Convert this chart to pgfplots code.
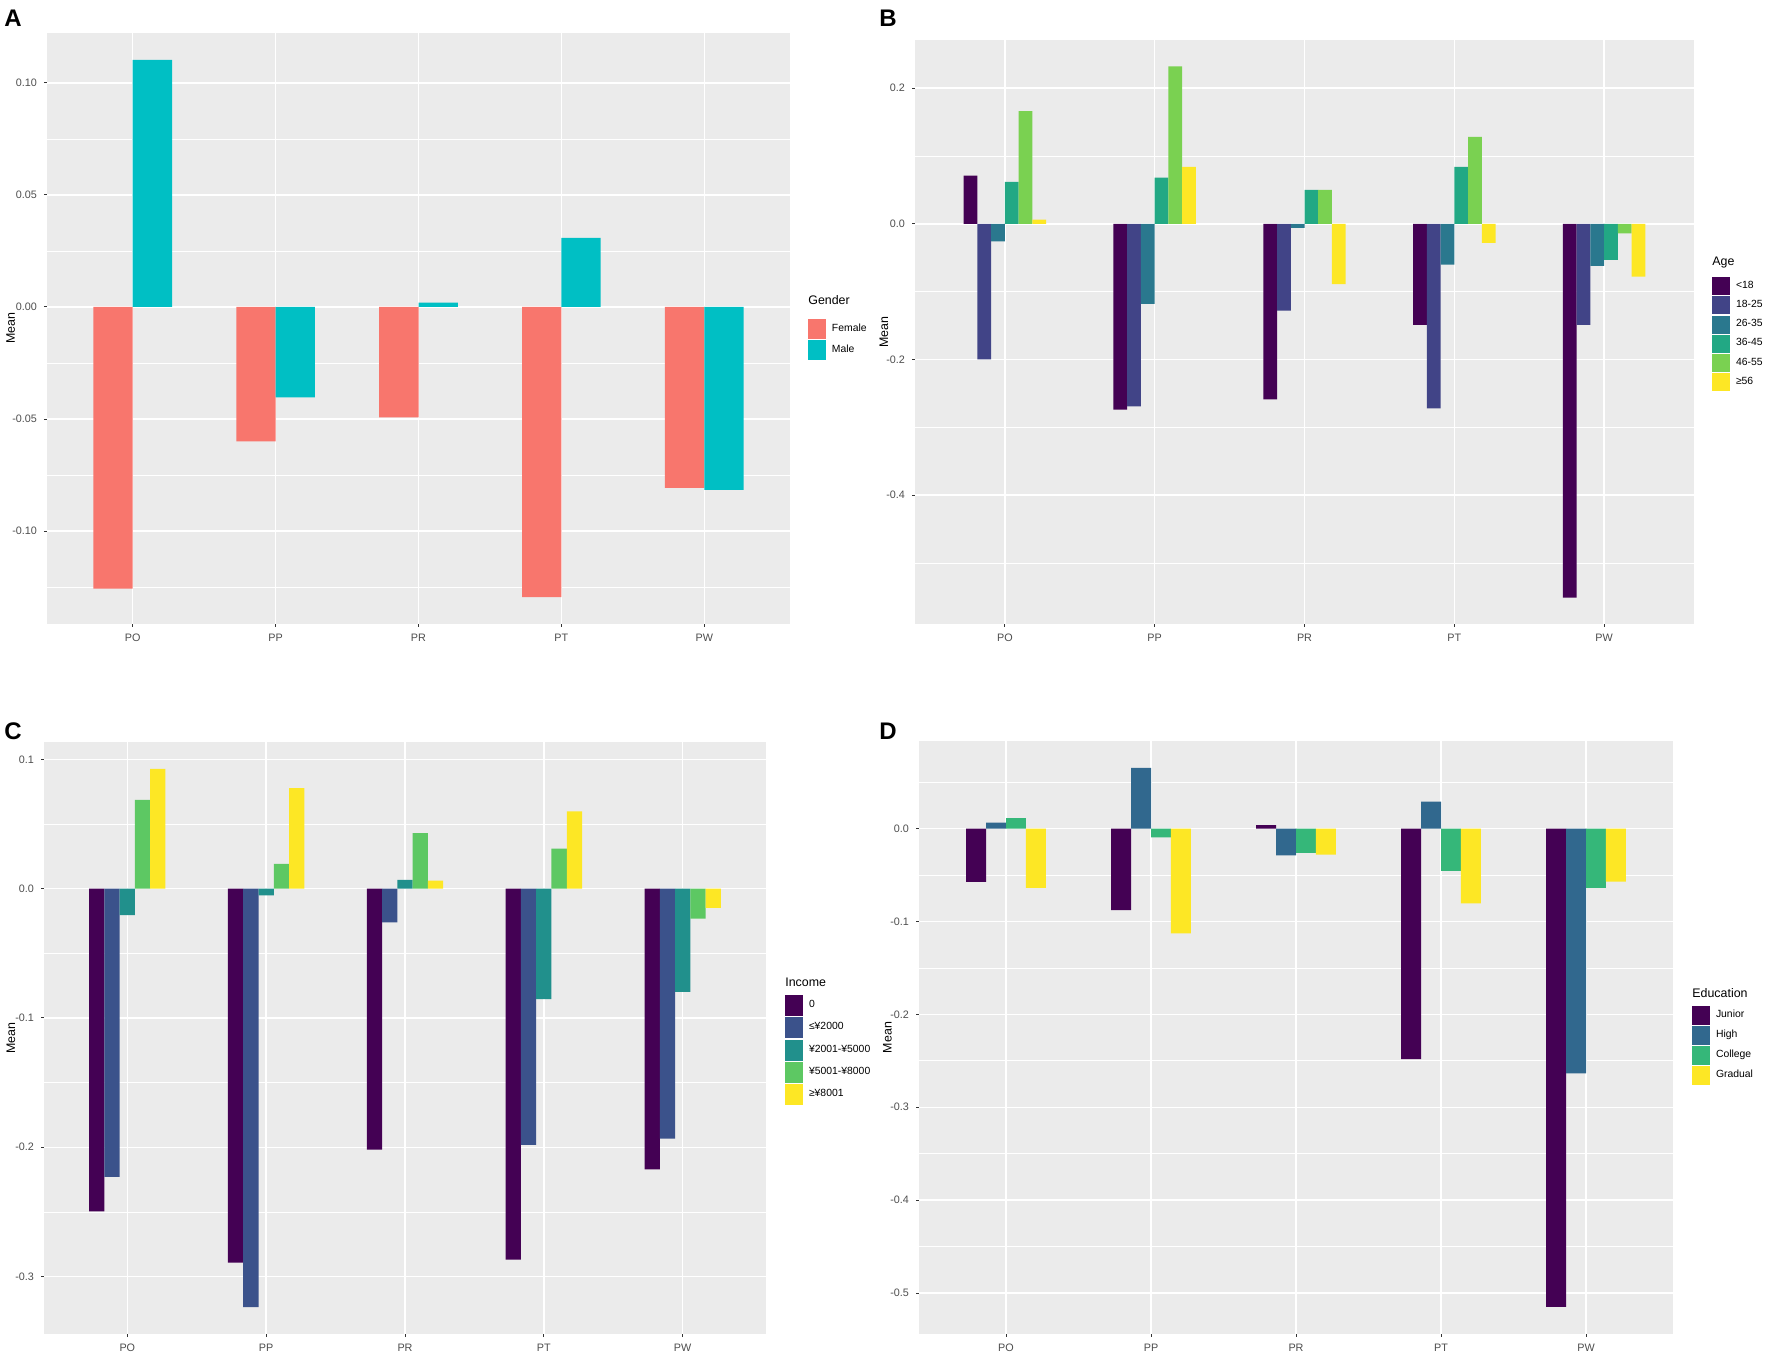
\documentclass[border=0pt]{standalone}
\usepackage{fontspec}
\setmainfont{Liberation Sans}
\usepackage{pgfplots}
\pgfplotsset{compat=1.18}
\definecolor{panelbg}{HTML}{EBEBEB}
\definecolor{tickc}{HTML}{333333}
\definecolor{ticktext}{HTML}{4D4D4D}
\definecolor{female}{HTML}{F8766D}
\definecolor{male}{HTML}{00BFC4}
\definecolor{vsa}{HTML}{440154}
\definecolor{vsb}{HTML}{414487}
\definecolor{vsc}{HTML}{2A788E}
\definecolor{vsd}{HTML}{22A884}
\definecolor{vse}{HTML}{7AD151}
\definecolor{vsf}{HTML}{FDE725}
\definecolor{vfb}{HTML}{3B528B}
\definecolor{vfc}{HTML}{21908C}
\definecolor{vfd}{HTML}{5DC863}
\definecolor{vqb}{HTML}{31688E}
\definecolor{vqc}{HTML}{35B779}
\def\keyw{9pt}
\def\keylo{-4.6pt}
\def\keyhi{4.6pt}
\pgfplotsset{
  gg/.style={
    scale only axis,
    clip=false,
    axis background/.style={fill=panelbg},
    axis line style={draw=none},
    tick align=outside,
    major tick length=1.5pt,
    minor tick length=0pt,
    tick style={color=tickc, line width=0.5pt},
    xtick pos=left, ytick pos=left,
    xmajorgrids, ymajorgrids, yminorgrids,
    major grid style={white, line width=0.7pt},
    minor grid style={white, line width=0.35pt},
    xmin=0.4, xmax=5.6,
    xtick={1,2,3,4,5},
    xticklabels={PO,PP,PR,PT,PW},
    ticklabel style={font=\fontsize{5.4}{6}\selectfont, text=ticktext},
    ylabel={Mean},
    ylabel style={font=\fontsize{6.2}{7}\selectfont, anchor=center},
    legend style={draw=none, fill=none, inner sep=0pt, outer sep=0pt,
      font=\fontsize{5.2}{6}\selectfont, anchor=north west,
      nodes={inner xsep=0pt, inner ysep=0pt}, column sep=3pt, row sep=0.6pt},
    legend cell align=left,
  },
  gbar/.style={ybar, draw=none, fill=#1,
    legend image code/.code={\fill[fill=#1] (0pt,\keylo) rectangle (\keyw,\keyhi);}},
}
\begin{document}
\begin{tikzpicture}
\useasboundingbox (0,0) rectangle (886pt,680.5pt);
% ---------- A ----------
\def\keylo{-4.95pt}\def\keyhi{4.95pt}
\begin{axis}[gg, at={(23.5pt,664pt)}, anchor=north west,
  width=371.5pt, height=295.5pt,
  ymin=-0.1415, ymax=0.1223,
  ytick={-0.10,-0.05,0,0.05,0.10},
  yticklabels={-0.10,-0.05,0.00,0.05,0.10},
  minor ytick={-0.125,-0.075,-0.025,0.025,0.075},
  ylabel style={at={(axis description cs:-0.0489,0.5)}},
  legend style={at={(axis description cs:1.0242,0.5161)}},
]
\addplot[gbar=female, bar width=0.275, bar shift=-0.1375] coordinates {(1,-0.1257) (2,-0.0600) (3,-0.0493) (4,-0.1295) (5,-0.0807)};
\addlegendentry{Female}
\addplot[gbar=male, bar width=0.275, bar shift=0.1375] coordinates {(1,0.1103) (2,-0.0403) (3,0.0019) (4,0.0308) (5,-0.0816)};
\addlegendentry{Male}
\node[anchor=west, inner sep=0pt, font=\fontsize{6.2}{7}\selectfont] at (axis description cs:1.0242,0.5482) {Gender};
\end{axis}
% ---------- B ----------
\def\keylo{-4.52pt}\def\keyhi{4.52pt}
\begin{axis}[gg, at={(457.5pt,660.5pt)}, anchor=north west,
  width=389.5pt, height=292pt,
  ymin=-0.590, ymax=0.271,
  ytick={-0.4,-0.2,0,0.2},
  yticklabels={-0.4,-0.2,0.0,0.2},
  minor ytick={-0.5,-0.3,-0.1,0.1},
  ylabel style={at={(axis description cs:-0.0398,0.5)}},
  legend style={at={(axis description cs:1.0231,0.5942)}},
]
\addplot[gbar=vsa, bar width=0.0917, bar shift=-0.2292] coordinates {(1,0.071) (2,-0.274) (3,-0.259) (4,-0.149) (5,-0.551)};
\addlegendentry{<18}
\addplot[gbar=vsb, bar width=0.0917, bar shift=-0.1375] coordinates {(1,-0.200) (2,-0.269) (3,-0.128) (4,-0.272) (5,-0.149)};
\addlegendentry{18-25}
\addplot[gbar=vsc, bar width=0.0917, bar shift=-0.0458] coordinates {(1,-0.026) (2,-0.118) (3,-0.006) (4,-0.060) (5,-0.062)};
\addlegendentry{26-35}
\addplot[gbar=vsd, bar width=0.0917, bar shift=0.0458] coordinates {(1,0.062) (2,0.068) (3,0.050) (4,0.084) (5,-0.053)};
\addlegendentry{36-45}
\addplot[gbar=vse, bar width=0.0917, bar shift=0.1375] coordinates {(1,0.166) (2,0.232) (3,0.050) (4,0.128) (5,-0.014)};
\addlegendentry{46-55}
\addplot[gbar=vsf, bar width=0.0917, bar shift=0.2292] coordinates {(1,0.006) (2,0.084) (3,-0.089) (4,-0.028) (5,-0.078)};
\addlegendentry{≥56}
\node[anchor=west, inner sep=0pt, font=\fontsize{6.2}{7}\selectfont] at (axis description cs:1.0231,0.6182) {Age};
\end{axis}
% ---------- C ----------
\def\keylo{-5.27pt}\def\keyhi{5.27pt}
\begin{axis}[gg, at={(22pt,309.5pt)}, anchor=north west,
  width=361pt, height=296pt,
  ymin=-0.3444, ymax=0.1134,
  ytick={-0.3,-0.2,-0.1,0,0.1},
  yticklabels={-0.3,-0.2,-0.1,0.0,0.1},
  minor ytick={-0.25,-0.15,-0.05,0.05},
  ylabel style={at={(axis description cs:-0.0457,0.5)}},
  legend style={at={(axis description cs:1.0263,0.5726)}},
]
\addplot[gbar=vsa, bar width=0.11, bar shift=-0.22] coordinates {(1,-0.2496) (2,-0.2892) (3,-0.2018) (4,-0.2869) (5,-0.2170)};
\addlegendentry{0}
\addplot[gbar=vfb, bar width=0.11, bar shift=-0.11] coordinates {(1,-0.2229) (2,-0.3236) (3,-0.0260) (4,-0.1982) (5,-0.1933)};
\addlegendentry{≤¥2000}
\addplot[gbar=vfc, bar width=0.11, bar shift=0] coordinates {(1,-0.0205) (2,-0.0052) (3,0.0068) (4,-0.0855) (5,-0.0799)};
\addlegendentry{¥2001-¥5000}
\addplot[gbar=vfd, bar width=0.11, bar shift=0.11] coordinates {(1,0.0686) (2,0.0192) (3,0.0429) (4,0.0309) (5,-0.0231)};
\addlegendentry{¥5001-¥8000}
\addplot[gbar=vsf, bar width=0.11, bar shift=0.22] coordinates {(1,0.0926) (2,0.0777) (3,0.0062) (4,0.0598) (5,-0.0149)};
\addlegendentry{≥¥8001}
\node[anchor=west, inner sep=0pt, font=\fontsize{6.2}{7}\selectfont] at (axis description cs:1.0263,0.5946) {Income};
\end{axis}
% ---------- D ----------
\def\keylo{-4.7pt}\def\keyhi{4.7pt}
\begin{axis}[gg, at={(459.5pt,310pt)}, anchor=north west,
  width=377pt, height=296.5pt,
  ymin=-0.544, ymax=0.0942,
  ytick={-0.5,-0.4,-0.3,-0.2,-0.1,0},
  yticklabels={-0.5,-0.4,-0.3,-0.2,-0.1,0.0},
  minor ytick={-0.45,-0.35,-0.25,-0.15,-0.05,0.05},
  ylabel style={at={(axis description cs:-0.0418,0.5)}},
  legend style={at={(axis description cs:1.0252,0.5531)}},
]
\addplot[gbar=vsa, bar width=0.1375, bar shift=-0.2063] coordinates {(1,-0.0575) (2,-0.0879) (3,0.0036) (4,-0.2482) (5,-0.5149)};
\addlegendentry{Junior}
\addplot[gbar=vqb, bar width=0.1375, bar shift=-0.0688] coordinates {(1,0.0063) (2,0.0652) (3,-0.0290) (4,0.0290) (5,-0.2636)};
\addlegendentry{High}
\addplot[gbar=vqc, bar width=0.1375, bar shift=0.0688] coordinates {(1,0.0113) (2,-0.0095) (3,-0.0263) (4,-0.0457) (5,-0.0639)};
\addlegendentry{College}
\addplot[gbar=vsf, bar width=0.1375, bar shift=0.2063] coordinates {(1,-0.0639) (2,-0.1128) (3,-0.0281) (4,-0.0806) (5,-0.0571)};
\addlegendentry{Gradual}
\node[anchor=west, inner sep=0pt, font=\fontsize{6.2}{7}\selectfont] at (axis description cs:1.0252,0.575) {Education};
\end{axis}
% panel letters
\node[anchor=base west, inner sep=0pt, font=\fontsize{12}{12}\selectfont\bfseries] at (2pt,667pt) {A};
\node[anchor=base west, inner sep=0pt, font=\fontsize{12}{12}\selectfont\bfseries] at (439.5pt,667pt) {B};
\node[anchor=base west, inner sep=0pt, font=\fontsize{12}{12}\selectfont\bfseries] at (2pt,310.5pt) {C};
\node[anchor=base west, inner sep=0pt, font=\fontsize{12}{12}\selectfont\bfseries] at (439.5pt,310.5pt) {D};
\end{tikzpicture}
\end{document}
